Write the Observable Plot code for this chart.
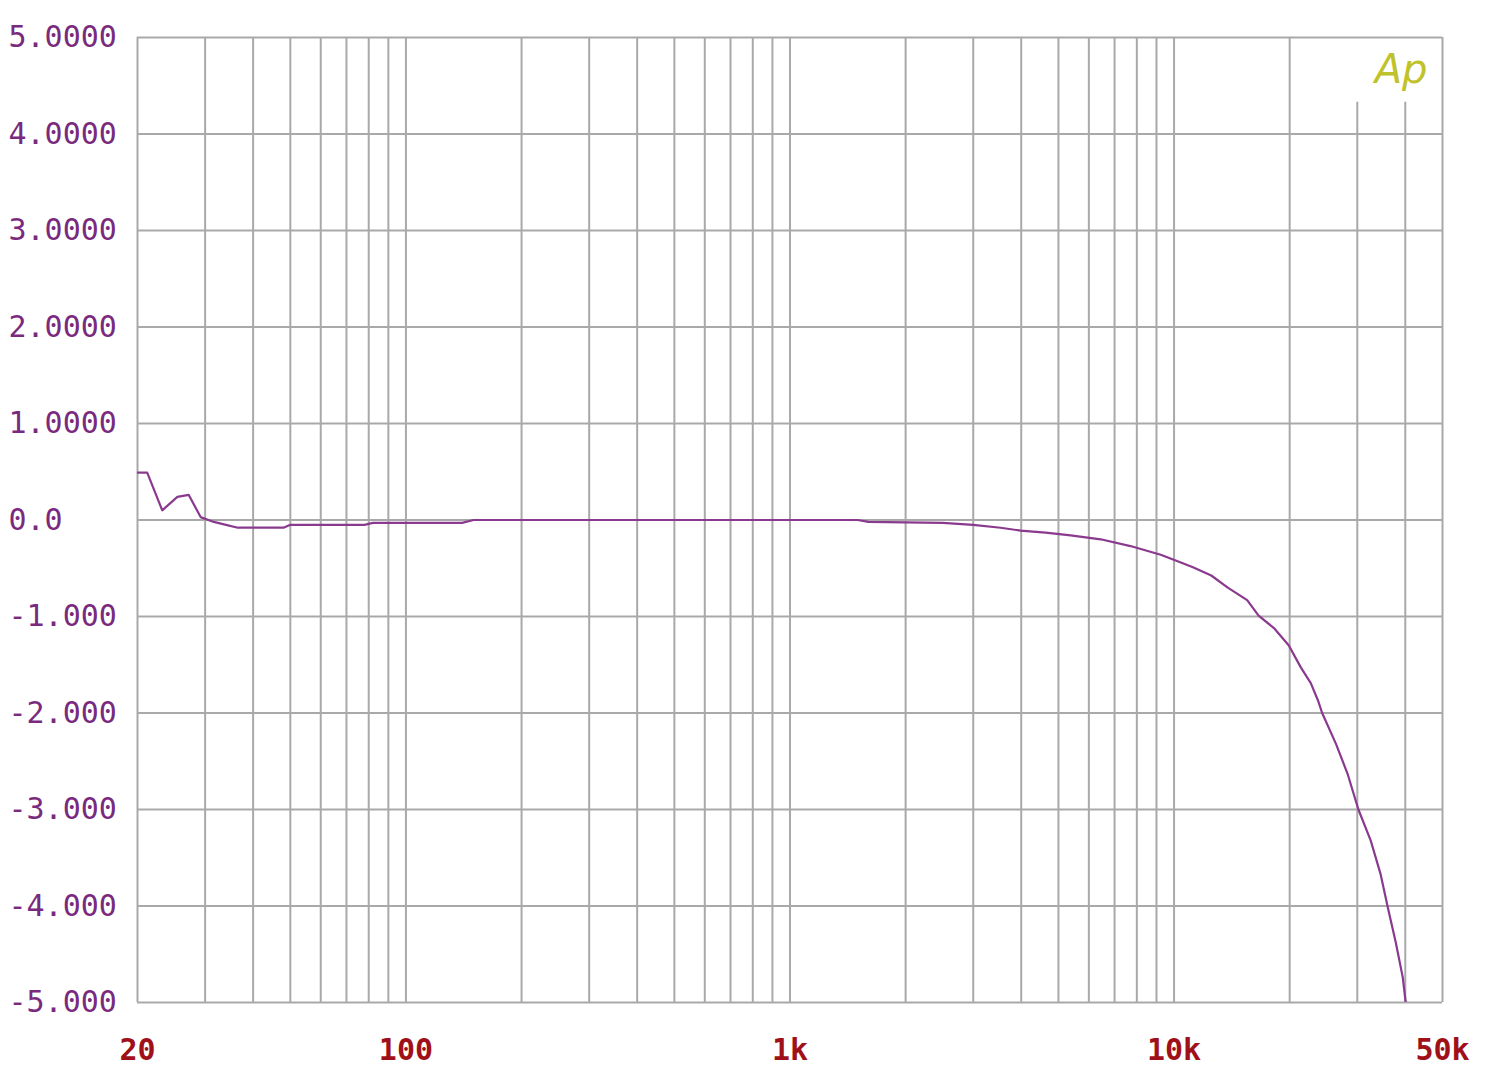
<!DOCTYPE html>
<html>
<head>
<meta charset="utf-8">
<script src="https://cdn.jsdelivr.net/npm/d3@7"></script>
<script src="https://cdn.jsdelivr.net/npm/@observablehq/plot@0.6"></script>
<style>
  html, body { margin: 0; padding: 0; background: #ffffff; }
</style>
</head>
<body>
<div id="chart"></div>
<script>
// Frequency response (Hz vs dB)
const freqHz = [20, 21.2, 23.2, 25.4, 27.2, 29.2, 31.6, 34, 36.5, 48, 50, 78, 82, 140, 150, 1500, 1600, 2500, 3000, 3535, 3983, 4630, 5380, 6440, 7700, 9230, 10100, 11200, 12500, 13800, 15500, 16600, 18200, 19900, 21400, 22700, 23700, 24300, 26400, 28300, 30200, 32500, 34500, 36000, 37800, 39400, 40100];
const levelDb = [0.49, 0.49, 0.10, 0.24, 0.26, 0.03, -0.02, -0.05, -0.08, -0.08, -0.05, -0.05, -0.03, -0.03, 0.0, 0.0, -0.02, -0.03, -0.05, -0.08, -0.11, -0.13, -0.16, -0.20, -0.27, -0.36, -0.42, -0.49, -0.575, -0.70, -0.83, -0.99, -1.12, -1.30, -1.53, -1.69, -1.87, -2.0, -2.32, -2.63, -3.0, -3.32, -3.67, -4.01, -4.38, -4.74, -5.0];

const yTicks = [5, 4, 3, 2, 1, 0, -1, -2, -3, -4, -5];
const yTickLabels = ["5.0000", "4.0000", "3.0000", "2.0000", "1.0000", "0.0", "-1.000", "-2.000", "-3.000", "-4.000", "-5.000"];
const xTicks = [20, 100, 1000, 10000, 50000];
const xTickLabels = ["20", "100", "1k", "10k", "50k"];
const xGridFull = [20, 30, 40, 50, 60, 70, 80, 90, 100, 200, 300, 400, 500, 600, 700, 800, 900, 1000, 2000, 3000, 4000, 5000, 6000, 7000, 8000, 9000, 10000, 20000, 50000];
const xGridShort = [30000, 40000];
const shortGridTop = 4.33;
const logoText = ["Ap"];

const data = freqHz.map((f, i) => ({ f, db: levelDb[i] }));
const yLabelMap = new Map(yTicks.map((t, i) => [t, yTickLabels[i]]));
const xLabelMap = new Map(xTicks.map((t, i) => [t, xTickLabels[i]]));

const gridColor = "#a9a9a9";

const chart = Plot.plot({
  width: 1500,
  height: 1072,
  marginLeft: 137,
  marginRight: 58,
  marginTop: 37,
  marginBottom: 70,
  style: { background: "#ffffff", fontFamily: "'DejaVu Sans Mono', monospace" },
  x: { type: "log", domain: [20, 50000] },
  y: { domain: [-5, 5] },
  marks: [
    Plot.ruleX(xGridFull, { stroke: gridColor, strokeWidth: 2 }),
    Plot.ruleX(xGridShort, { y1: -5, y2: shortGridTop, stroke: gridColor, strokeWidth: 2 }),
    Plot.ruleY(yTicks, { stroke: gridColor, strokeWidth: 2 }),
    Plot.line(data, { x: "f", y: "db", stroke: "#8a3a8e", strokeWidth: 2.2, clip: true }),
    Plot.axisY(yTicks, {
      tickSize: 0, tickPadding: 0, textAnchor: "start", dx: -129,
      tickFormat: d => yLabelMap.get(d), color: "#7a2a7e",
      fontSize: 30, fontWeight: "normal", label: null
    }),
    Plot.axisX(xTicks, {
      tickSize: 0, tickPadding: 36,
      tickFormat: d => xLabelMap.get(d), color: "#a01018",
      fontSize: 30, fontWeight: "bold", label: null
    }),
    Plot.text(logoText, {
      text: d => d, frameAnchor: "top-right", dx: -15, dy: 17,
      textAnchor: "end", fill: "#bfc22a", fontSize: 40,
      fontStyle: "italic", fontFamily: "'DejaVu Sans', sans-serif", fontWeight: 200
    })
  ]
});
document.getElementById("chart").appendChild(chart);
</script>
</body>
</html>
